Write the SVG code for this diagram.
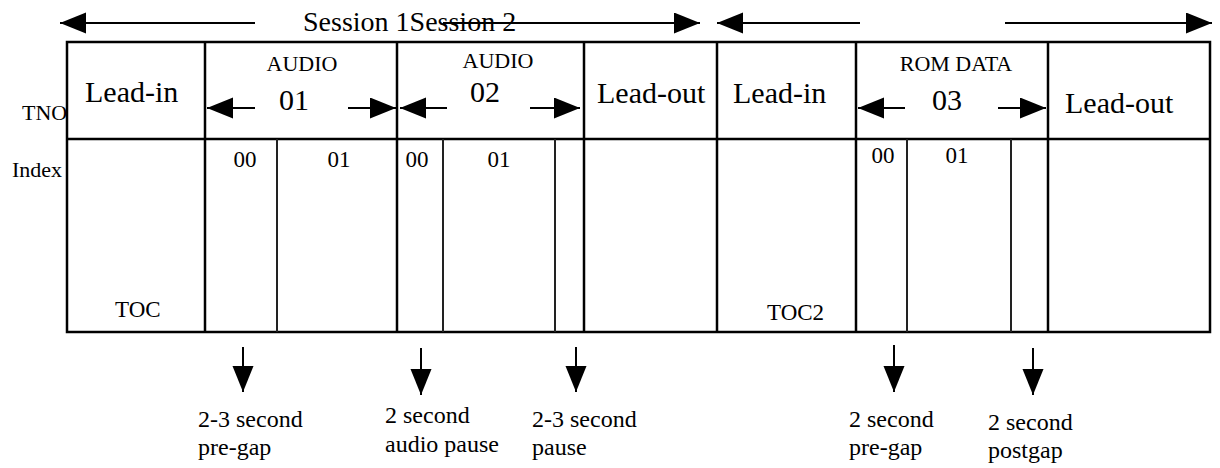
<svg xmlns="http://www.w3.org/2000/svg" width="1220" height="468" viewBox="0 0 1220 468">
<defs>
<marker id="ah" markerUnits="userSpaceOnUse" markerWidth="27" markerHeight="22" refX="26" refY="10.5" orient="auto">
<path d="M0,0 L26,10.5 L0,21 z" fill="#000"/>
</marker>
<style>
text{font-family:"Liberation Serif","Times New Roman",serif;fill:#000}
.big{font-size:30px}
.sm{font-size:22px}
.idx{font-size:23px}
.lab{font-size:24px}
.ses{font-size:28px}
.frame{fill:none;stroke:#000;stroke-width:2.5}
.div{stroke:#000;stroke-width:2.5}
.sub{stroke:#222;stroke-width:2}
.arr{stroke:#000;stroke-width:2;fill:none;marker-end:url(#ah)}
.m{text-anchor:middle}
</style>
</defs>
<rect width="1220" height="468" fill="#fff"/>
<g id="table">
<rect class="frame" x="67" y="42" width="1143" height="290"/>
<line class="div" x1="67" y1="139" x2="1210" y2="139"/>
<line class="div" x1="205" y1="42" x2="205" y2="332"/>
<line class="div" x1="397" y1="42" x2="397" y2="332"/>
<line class="div" x1="584" y1="42" x2="584" y2="332"/>
<line class="div" x1="717" y1="42" x2="717" y2="332"/>
<line class="div" x1="856" y1="42" x2="856" y2="332"/>
<line class="div" x1="1048" y1="42" x2="1048" y2="332"/>
<line class="sub" x1="277" y1="139" x2="277" y2="332"/>
<line class="sub" x1="443" y1="139" x2="443" y2="332"/>
<line class="sub" x1="555" y1="139" x2="555" y2="332"/>
<line class="sub" x1="907" y1="139" x2="907" y2="332"/>
<line class="sub" x1="1011" y1="139" x2="1011" y2="332"/>
</g>
<g id="row-labels">
<text class="sm" x="22" y="120">TNO</text>
<text class="sm" x="12" y="177">Index</text>
</g>
<g id="session">
<text class="ses" x="303" y="31">Session 1Session 2</text>
</g>
<g id="leadin1"><text class="big" x="85" y="102">Lead-in</text><text class="idx" x="115" y="317">TOC</text></g>
<g id="track01"><text class="sm m" x="302" y="71">AUDIO</text><text class="big m" x="294" y="110">01</text><text class="idx m" x="245" y="167">00</text><text class="idx m" x="339" y="167">01</text></g>
<g id="track02"><text class="sm m" x="498" y="68">AUDIO</text><text class="big m" x="485" y="102">02</text><text class="idx m" x="417" y="167">00</text><text class="idx m" x="499" y="167">01</text></g>
<g id="leadout1"><text class="big" x="597" y="103">Lead-out</text></g>
<g id="leadin2"><text class="big" x="733" y="103">Lead-in</text><text class="idx" x="767" y="320">TOC2</text></g>
<g id="track03"><text class="sm m" x="956" y="71">ROM DATA</text><text class="big m" x="947" y="110">03</text><text class="idx m" x="883" y="163">00</text><text class="idx m" x="957" y="163">01</text></g>
<g id="leadout2"><text class="big" x="1065" y="113">Lead-out</text></g>
<g id="labels">
<text class="lab" x="198" y="427">2-3 second</text><text class="lab" x="198" y="455">pre-gap</text>
<text class="lab" x="385" y="423">2 second</text><text class="lab" x="385" y="452">audio pause</text>
<text class="lab" x="532" y="427">2-3 second</text><text class="lab" x="532" y="455">pause</text>
<text class="lab" x="849" y="427">2 second</text><text class="lab" x="849" y="455">pre-gap</text>
<text class="lab" x="988" y="430">2 second</text><text class="lab" x="988" y="458">postgap</text>
</g>
<g id="connectors">
<line class="arr" x1="255" y1="23" x2="60" y2="23"/>
<line class="arr" x1="443" y1="23" x2="700" y2="23"/>
<line class="arr" x1="860" y1="23" x2="717" y2="23"/>
<line class="arr" x1="1005" y1="23" x2="1212" y2="23"/>
<line class="arr" x1="255" y1="108" x2="207" y2="108"/>
<line class="arr" x1="348" y1="108" x2="396" y2="108"/>
<line class="arr" x1="447" y1="108" x2="400" y2="108"/>
<line class="arr" x1="530" y1="108" x2="580" y2="108"/>
<line class="arr" x1="905" y1="108" x2="858" y2="108"/>
<line class="arr" x1="998" y1="108" x2="1046" y2="108"/>
<line class="arr" x1="243" y1="347" x2="243" y2="392"/>
<line class="arr" x1="421" y1="348" x2="421" y2="395"/>
<line class="arr" x1="576" y1="347" x2="576" y2="392"/>
<line class="arr" x1="894" y1="345" x2="894" y2="392"/>
<line class="arr" x1="1033" y1="348" x2="1033" y2="395"/>
</g>
</svg>
